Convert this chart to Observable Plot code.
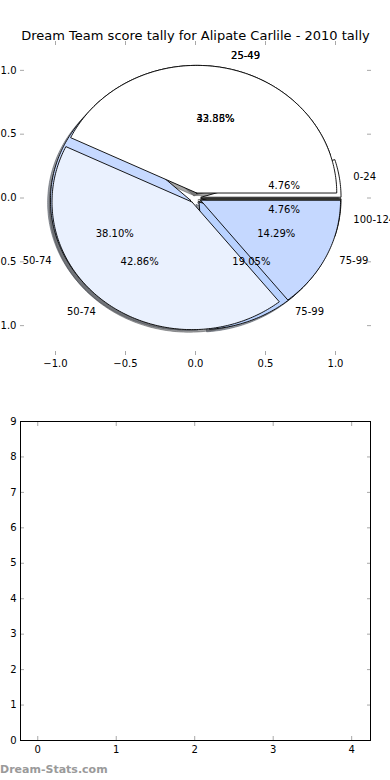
<!DOCTYPE html>
<html><head><meta charset="utf-8">
<script src="https://cdn.jsdelivr.net/npm/d3@7"></script>
<script src="https://cdn.jsdelivr.net/npm/@observablehq/plot@0.6"></script>
<style>
body{margin:0;background:#fff;width:390px;height:780px;position:relative;overflow:hidden;font-family:"DejaVu Sans";}
#top{position:absolute;left:0;top:0}
#bottom{position:absolute;left:0;top:390px}
#foot{position:absolute;left:0;top:763px;font:bold 11px "DejaVu Sans";color:#9a9a9a}
</style></head><body>
<div id="top"></div><div id="bottom"></div><div id="foot">Dream-Stats.com</div>
<script>
const title = "Dream Team score tally for Alipate Carlile - 2010 tally";
const categoriesA = ["0-24", "25-49", "50-74", "75-99", "100-124"];
const tallyA = [1, 7, 8, 4, 1];
const colorsA = ["#ffffff", "#ffffff", "#c6d9ff", "#b9d2ff", "#5c5c50"];
const categoriesB = ["25-49", "50-74", "75-99"];
const tallyB = [9, 9, 3];
const colorsB = ["#ffffff", "#eaf1fe", "#c5d8ff"];
const pieTicks = [-1, -0.5, 0, 0.5, 1];
const barXTicks = [0, 1, 2, 3, 4];
const barYTicks = [0, 1, 2, 3, 4, 5, 6, 7, 8, 9];

const explode = 0.04, shadowOff = 0.02, radius = 1;

function pie(cats, vals, colors) {
  const total = d3.sum(vals);
  let start = 0;
  return cats.map((c, i) => {
    const frac = vals[i] / total;
    const t1 = start * 360, t2 = (start + frac) * 360;
    start += frac;
    const mid = (t1 + t2) / 2 * Math.PI / 180;
    const cx = explode * Math.cos(mid), cy = explode * Math.sin(mid);
    const pts = [{x: cx, y: cy}];
    const n = Math.max(2, Math.ceil(t2 - t1));
    for (let k = 0; k <= n; k++) {
      const a = (t1 + (t2 - t1) * k / n) * Math.PI / 180;
      pts.push({x: cx + radius * Math.cos(a), y: cy + radius * Math.sin(a)});
    }
    pts.push({x: cx, y: cy});
    const col = d3.rgb(colors[i]);
    const sh = d3.rgb(col.r * 0.3, col.g * 0.3, col.b * 0.3).formatHex();
    return {cat: c, pct: (frac * 100).toFixed(2) + "%", color: colors[i], shadow: sh, pts,
      lx: cx + 1.1 * radius * Math.cos(mid), ly: cy + 1.1 * radius * Math.sin(mid),
      px: cx + 0.6 * radius * Math.cos(mid), py: cy + 0.6 * radius * Math.sin(mid)};
  });
}

const wedgesA = pie(categoriesA, tallyA, colorsA);
const wedgesB = pie(categoriesB, tallyB, colorsB);
const all = [...wedgesA, ...wedgesB];

const fmt = d3.format(".1f");
const tickCol = "#a8a8a8";

const topMarks = [
  ...all.map(w => Plot.line(w.pts, {x: d => d.x - shadowOff, y: d => d.y - shadowOff, fill: w.shadow, fillOpacity: 0.5, stroke: w.shadow, strokeOpacity: 0.5, strokeWidth: 1})),
  ...all.map(w => Plot.line(w.pts, {x: "x", y: "y", fill: w.color, stroke: "black", strokeWidth: 0.9})),
  Plot.text(all.filter(w => w.lx > 0), {x: "lx", y: "ly", text: "cat", textAnchor: "start", fontSize: 10}),
  Plot.text(all.filter(w => w.lx <= 0), {x: "lx", y: "ly", text: "cat", textAnchor: "end", fontSize: 10}),
  Plot.text(all, {x: "px", y: "py", text: "pct", fontSize: 10}),
  Plot.axisX(pieTicks, {anchor: "bottom", tickSize: -4, stroke: tickCol, tickFormat: () => "", label: null}),
  Plot.axisX(pieTicks, {anchor: "top", tickSize: -4, stroke: tickCol, tickFormat: () => "", label: null}),
  Plot.axisY(pieTicks, {anchor: "left", tickSize: -4, stroke: tickCol, tickFormat: () => "", label: null}),
  Plot.axisY(pieTicks, {anchor: "right", tickSize: -4, stroke: tickCol, tickFormat: () => "", label: null}),
  Plot.axisX(pieTicks, {anchor: "bottom", tickSize: 0, tickPadding: 4, tickFormat: fmt, fontSize: 10, label: null}),
  Plot.axisY(pieTicks, {anchor: "left", tickSize: 0, tickPadding: 4, tickFormat: fmt, fontSize: 10, label: null}),
  Plot.text([title], {frameAnchor: "top", dy: -10, fontSize: 13})
];

const topChart = Plot.plot({
  width: 390, height: 390,
  marginLeft: 20, marginRight: 20, marginTop: 40, marginBottom: 35,
  x: {domain: [-1.25, 1.25], label: null},
  y: {domain: [-1.234, 1.234], label: null},
  style: {fontFamily: "DejaVu Sans", fontSize: "10px", background: "white", color: "black", overflow: "visible"},
  marks: topMarks
});
document.getElementById("top").appendChild(topChart);

const bottomChart = Plot.plot({
  width: 390, height: 390,
  marginLeft: 20, marginRight: 20, marginTop: 31, marginBottom: 40,
  x: {domain: [-0.22, 4.24], label: null},
  y: {domain: [0, 9], label: null},
  style: {fontFamily: "DejaVu Sans", fontSize: "10px", background: "white", color: "black"},
  marks: [
    Plot.axisX(barXTicks, {anchor: "bottom", tickSize: -4, stroke: tickCol, tickFormat: () => "", label: null}),
    Plot.axisX(barXTicks, {anchor: "top", tickSize: -4, stroke: tickCol, tickFormat: () => "", label: null}),
    Plot.axisY(barYTicks, {anchor: "left", tickSize: -4, stroke: tickCol, tickFormat: () => "", label: null}),
    Plot.axisY(barYTicks, {anchor: "right", tickSize: -4, stroke: tickCol, tickFormat: () => "", label: null}),
    Plot.axisX(barXTicks, {anchor: "bottom", tickSize: 0, tickPadding: 5, fontSize: 10, label: null}),
    Plot.axisY(barYTicks, {anchor: "left", tickSize: 0, tickPadding: 4, fontSize: 10, label: null}),
    Plot.frame({stroke: "black", strokeWidth: 1})
  ]
});
document.getElementById("bottom").appendChild(bottomChart);
</script>
</body></html>
